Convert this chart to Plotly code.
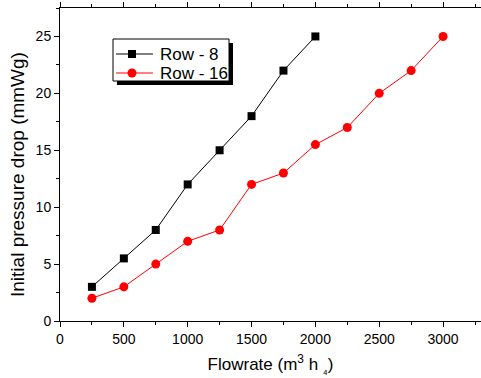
import plotly.graph_objects as go

flow_8 = [250, 500, 750, 1000, 1250, 1500, 1750, 2000]
drop_8 = [3, 5.5, 8, 12, 15, 18, 22, 25]
flow_16 = [250, 500, 750, 1000, 1250, 1500, 1750, 2000, 2250, 2500, 2750, 3000]
drop_16 = [2, 3, 5, 7, 8, 12, 13, 15.5, 17, 20, 22, 25]
x_ticks = [0, 500, 1000, 1500, 2000, 2500, 3000]
y_ticks = [0, 5, 10, 15, 20, 25]
series_names = ["Row - 8", "Row - 16"]

FONT = "Liberation Sans, Arial, sans-serif"
W, H = 481, 378
L, R, T, B = 60, 0, 8, 57
PW, PH = W - L - R, H - T - B


def px(x):
    return (x - L) / PW


def py(y):
    return (H - B - y) / PH


fig = go.Figure()
fig.add_trace(go.Scatter(x=flow_8, y=drop_8, mode="lines+markers", name=series_names[0],
                         line=dict(color="black", width=1),
                         marker=dict(symbol="square", size=8, color="black")))
fig.add_trace(go.Scatter(x=flow_16, y=drop_16, mode="lines+markers", name=series_names[1],
                         line=dict(color="red", width=1),
                         marker=dict(symbol="circle", size=9, color="red")))

# custom legend box with drop shadow
shapes = []
shapes.append(dict(type="rect", xref="paper", yref="paper",
                   x0=px(117), x1=px(233), y0=py(85), y1=py(43),
                   fillcolor="black", line=dict(width=0), layer="above"))
shapes.append(dict(type="rect", xref="paper", yref="paper",
                   x0=px(113), x1=px(229), y0=py(81), y1=py(39),
                   fillcolor="white", line=dict(color="black", width=1), layer="above"))
key_colors = ["black", "red"]
key_y = [54, 73]
for i in range(2):
    shapes.append(dict(type="line", xref="paper", yref="paper",
                       x0=px(116), x1=px(153), y0=py(key_y[i]), y1=py(key_y[i]),
                       line=dict(color=key_colors[i], width=1), layer="above"))
shapes.append(dict(type="rect", xref="paper", yref="paper",
                   x0=px(128), x1=px(136), y0=py(key_y[0] + 4), y1=py(key_y[0] - 4),
                   fillcolor="black", line=dict(width=0), layer="above"))
shapes.append(dict(type="circle", xref="paper", yref="paper",
                   x0=px(127.5), x1=px(136.5), y0=py(key_y[1] + 4.5), y1=py(key_y[1] - 4.5),
                   fillcolor="red", line=dict(width=0), layer="above"))
annotations = []
for i in range(2):
    annotations.append(dict(text=series_names[i], xref="paper", yref="paper",
                            x=px(158), y=py(key_y[i]), xanchor="left", yanchor="middle",
                            showarrow=False, font=dict(size=17, family=FONT, color="black")))
# y-axis title
annotations.append(dict(text="Initial pressure drop (mmWg)", xref="paper", yref="paper",
                        x=px(18), y=py(175), xanchor="center", yanchor="middle",
                        textangle=-90, showarrow=False,
                        font=dict(size=19, family=FONT, color="black")))

fig.update_layout(
    width=W, height=H,
    margin=dict(l=L, r=R, t=T, b=B),
    paper_bgcolor="white", plot_bgcolor="white",
    font=dict(family=FONT, size=14, color="black"),
    showlegend=False,
    shapes=shapes, annotations=annotations,
    xaxis=dict(range=[0, 3297], tickvals=x_ticks, showgrid=False, zeroline=False,
               showline=True, linecolor="black", linewidth=1, mirror="ticks",
               ticks="outside", ticklen=5, tickcolor="black",
               minor=dict(dtick=250, ticks="outside", ticklen=3, tickcolor="black"),
               tickfont=dict(size=14),
               title=dict(text="Flowrate (m<sup>3</sup> h <sub>₄</sub>)", font=dict(size=17), standoff=12)),
    yaxis=dict(range=[0, 27.5], tickvals=y_ticks, showgrid=False, zeroline=False,
               showline=True, linecolor="black", linewidth=1, mirror=False,
               ticks="outside", ticklen=5, tickcolor="black",
               minor=dict(dtick=2.5, ticks="outside", ticklen=3, tickcolor="black"),
               tickfont=dict(size=14)),
)

fig.write_html("out.html")
